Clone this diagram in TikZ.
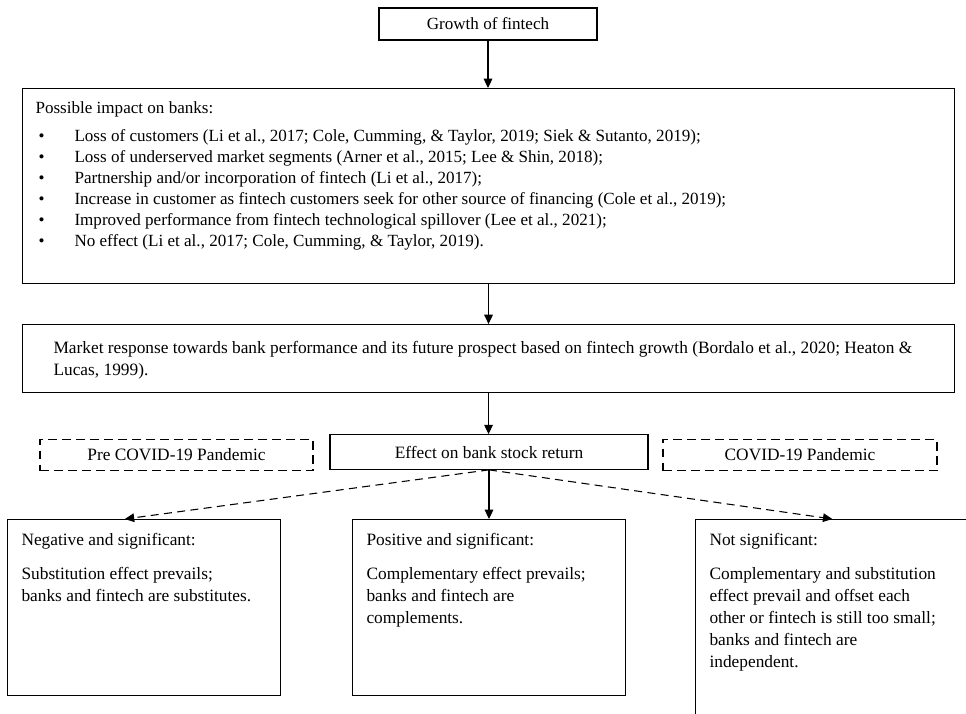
\documentclass[tikz,border=0pt]{standalone}
\usepackage{fontspec}
\setmainfont{Liberation Serif}
\usetikzlibrary{arrows.meta, calc}

\newcommand{\panelbody}[3]{\parbox[t][#2][t]{#1}{\raggedright #3}}
\newcommand{\bul}{\hspace*{2.25pt}\makebox[27pt][l]{\textbullet}}

\begin{document}
\begin{tikzpicture}[x=0.75pt, y=-0.75pt,
  panel/.style={draw, line width=0.8pt, anchor=north west, inner sep=0pt},
  topfont/.style={font=\fontsize{12.8}{15.75}\selectfont},
  lowfont/.style={font=\fontsize{13}{16.5}\selectfont},
  smallbox/.style={draw, line width=0.8pt, inner sep=0pt, minimum height=24pt},
  dashbox/.style={smallbox, dash pattern=on 6.5pt off 4pt, minimum height=23.25pt},
  link/.style={-{Triangle[length=7pt, width=6.5pt]}, line width=0.8pt},
  dlink/.style={link, dash pattern=on 6pt off 4pt}]
  \useasboundingbox (0,0) rectangle (966,713);

  \node[smallbox, topfont, minimum width=163.5pt] (growth) at (488,24) {Growth of fintech};

  \node[panel, topfont, inner xsep=9.75pt, inner ysep=10pt] (impact) at (22,88)
    {\panelbody{679.5pt}{126.25pt}{Possible impact on banks:\\[5pt]
     \bul Loss of customers (Li et al., 2017; Cole, Cumming, \& Taylor, 2019; Siek \& Sutanto, 2019);\\
     \bul Loss of underserved market segments (Arner et al., 2015; Lee \& Shin, 2018);\\
     \bul Partnership and/or incorporation of fintech (Li et al., 2017);\\
     \bul Increase in customer as fintech customers seek for other source of financing (Cole et al., 2019);\\
     \bul Improved performance from fintech technological spillover (Lee et al., 2021);\\
     \bul No effect (Li et al., 2017; Cole, Cumming, \& Taylor, 2019).}};

  \node[panel, font=\fontsize{13}{16.5}\selectfont, inner xsep=23.25pt, inner ysep=12.75pt] (market) at (22,324)
    {\panelbody{652.5pt}{25.5pt}{Market response towards bank performance and its future prospect based on fintech growth (Bordalo et al., 2020; Heaton \&\\
     Lucas, 1999).}};

  \node[dashbox, lowfont, minimum width=204.75pt] (pre) at (176.5,455) {Pre COVID-19 Pandemic};
  \node[smallbox, lowfont, minimum width=238.5pt, minimum height=26pt] (effect) at (489,452) {Effect on bank stock return};
  \node[dashbox, lowfont, minimum width=205.5pt] (covid) at (800,455) {COVID-19 Pandemic};

  \node[panel, lowfont, inner xsep=10.5pt, inner ysep=10.5pt] (negbox) at (7,519)
    {\panelbody{183.75pt}{111pt}{Negative and significant:\\[9pt]
     Substitution effect prevails;\\ banks and fintech are substitutes.}};
  \node[panel, lowfont, inner xsep=10.5pt, inner ysep=10.5pt] (posbox) at (352,519)
    {\panelbody{183.75pt}{111pt}{Positive and significant:\\[9pt]
     Complementary effect prevails;\\ banks and fintech are\\ complements.}};
  \node[panel, lowfont, inner xsep=10.5pt, inner ysep=10.5pt] (nsbox) at (695,519)
    {\panelbody{192.75pt}{129pt}{Not significant:\\[9pt]
     Complementary and substitution\\ effect prevail and offset each\\ other or fintech is still too small;\\ banks and fintech are\\ independent.}};

  \draw[link] (growth.south) -- (growth.south |- impact.north);
  \draw[link] (impact.south) -- (market.north);
  \draw[link] (market.south) -- (market.south |- effect.north);
  \draw[link] (effect.south) -- (effect.south |- posbox.north);
  \draw[dlink] (effect.south) -- ($(negbox.north west)!0.43!(negbox.north east)$);
  \draw[dlink] (effect.south) -- ($(nsbox.north west)!0.48!(nsbox.north east)$);
\end{tikzpicture}
\end{document}
